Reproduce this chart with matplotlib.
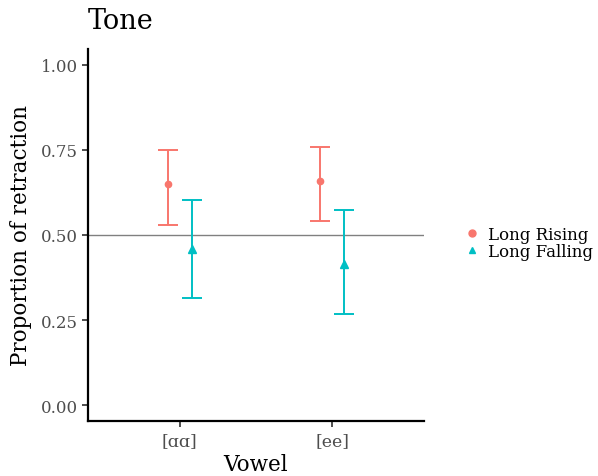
import matplotlib
matplotlib.use("Agg")
import matplotlib.pyplot as plt
from matplotlib.lines import Line2D
import numpy as np

vowels = ["[ɑɑ]", "[ee]"]
tones = ["Long Rising", "Long Falling"]
means = {"Long Rising": [0.650, 0.659], "Long Falling": [0.459, 0.415]}
lower = {"Long Rising": [0.529, 0.541], "Long Falling": [0.315, 0.268]}
upper = {"Long Rising": [0.750, 0.759], "Long Falling": [0.603, 0.574]}
yticks = [0.00, 0.25, 0.50, 0.75, 1.00]

colors = {"Long Rising": "#F8766D", "Long Falling": "#00BFC4"}
markers = {"Long Rising": "o", "Long Falling": "^"}
offsets = {"Long Rising": -0.078, "Long Falling": 0.078}

plt.rcParams['font.family'] = ['DejaVu Serif']

fig = plt.figure(figsize=(5.98, 4.77), dpi=100)
ax = fig.add_axes([88/598, 55/477, (424-88)/598, (422-50)/477])

x = np.arange(1, len(vowels) + 1)
ax.axhline(0.5, color="#808080", lw=1.0, zorder=1)
for t in tones:
    xs = x + offsets[t]
    m = np.array(means[t]); lo = np.array(lower[t]); hi = np.array(upper[t])
    ax.errorbar(xs, m, yerr=[m - lo, hi - m], fmt="none", ecolor=colors[t],
                elinewidth=1.4, capsize=7, capthick=1.4, zorder=2)
    ax.plot(xs, m, linestyle="none", marker=markers[t], color=colors[t],
            markersize=4.5 if t == "Long Rising" else 5.5, zorder=3)

ax.set_xlim(0.4, 2.6)
ax.set_ylim(-0.047, 1.047)
ax.set_xticks(x)
ax.set_xticklabels(vowels)
ax.set_yticks(yticks)
ax.set_yticklabels([f"{v:.2f}" for v in yticks])
for s in ["top", "right"]:
    ax.spines[s].set_visible(False)
for s in ["left", "bottom"]:
    ax.spines[s].set_linewidth(1.6)
ax.tick_params(axis="both", colors="#4D4D4D", labelsize=12, length=4, width=1.4)
ax.tick_params(axis="x", pad=4, labelsize=12.5)
ax.set_xlabel("Vowel", fontsize=15.5, labelpad=3)
ax.set_ylabel("Proportion of retraction", fontsize=15.5, labelpad=6)

fig.text(88/598, 1 - 29/477, "Tone", fontsize=19.5, ha="left", va="baseline")

handles = [Line2D([], [], linestyle="none", marker=markers[t], color=colors[t],
                  markersize=5) for t in tones]
fig.legend(handles, tones, loc="center left", bbox_to_anchor=(455/598, 1 - 244/477),
           frameon=False, fontsize=12, handlelength=1.0, handletextpad=0.5,
           labelspacing=0.0, borderpad=0)

fig.savefig("out.png", dpi=100)
